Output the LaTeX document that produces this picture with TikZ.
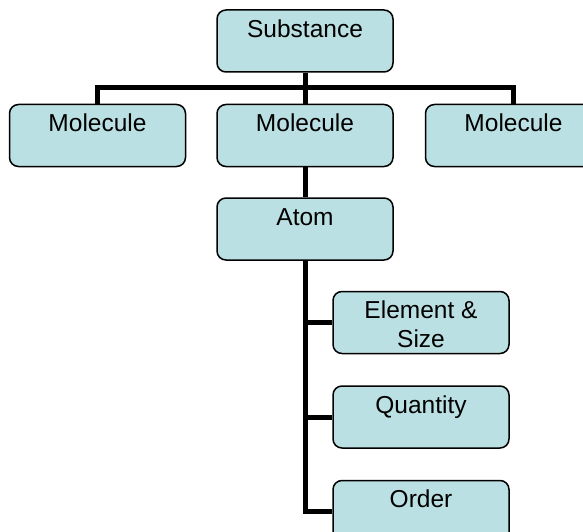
\documentclass[tikz,border=0pt]{standalone}
\usepackage{fontspec}
\setmainfont{Liberation Sans}
\usetikzlibrary{positioning}
\definecolor{kastenblau}{RGB}{187,224,227}
\newcommand{\kastentext}[1]{\parbox[c][48pt][t]{170pt}{\centering\strut #1}}
\tikzset{
  Kasten/.style={draw, line width=1.5pt, fill=kastenblau, rounded corners=9pt,
    minimum width=176pt, minimum height=62pt, inner sep=0pt,
    font=\fontsize{24.5}{29}\selectfont}, % für die Kästen
  Linie/.style={line width=5pt} % für die Verbindungen
}

\begin{document}
\begin{tikzpicture}[x=1pt, y=-1pt]
\useasboundingbox (0,0) rectangle (583,532);

%Kästen
\node[Kasten] (sub) at (305,41) {\kastentext{Substance}};
\node[Kasten, below=31pt of sub] (mol2) {\kastentext{Molecule}};
\node[Kasten, left=30pt of mol2] (mol1) {\kastentext{Molecule}};
\node[Kasten, right=31pt of mol2] (mol3) {\kastentext{Molecule}};
\node[Kasten, below=30pt of mol2] (atom) {\kastentext{Atom}};
\node[Kasten, below=30pt of atom, xshift=116pt] (elem) {\kastentext{Element \&\\Size}};
\node[Kasten, below=31pt of elem] (qty) {\kastentext{Quantity}};
\node[Kasten, below=31pt of qty] (ord) {\kastentext{Order}};

%Verbindungen
\draw[Linie] (sub.south) -- (mol2.north);
\draw[Linie] (mol1.north) -- ++(0,-16) -| (mol3.north);
\draw[Linie] (mol2.south) -- (atom.north);

\draw[Linie] (atom.south) |- (ord.west);
\draw[Linie] (atom.south |- elem.west) -- (elem.west);
\draw[Linie] (atom.south |- qty.west) -- (qty.west);

\end{tikzpicture}
\end{document}
